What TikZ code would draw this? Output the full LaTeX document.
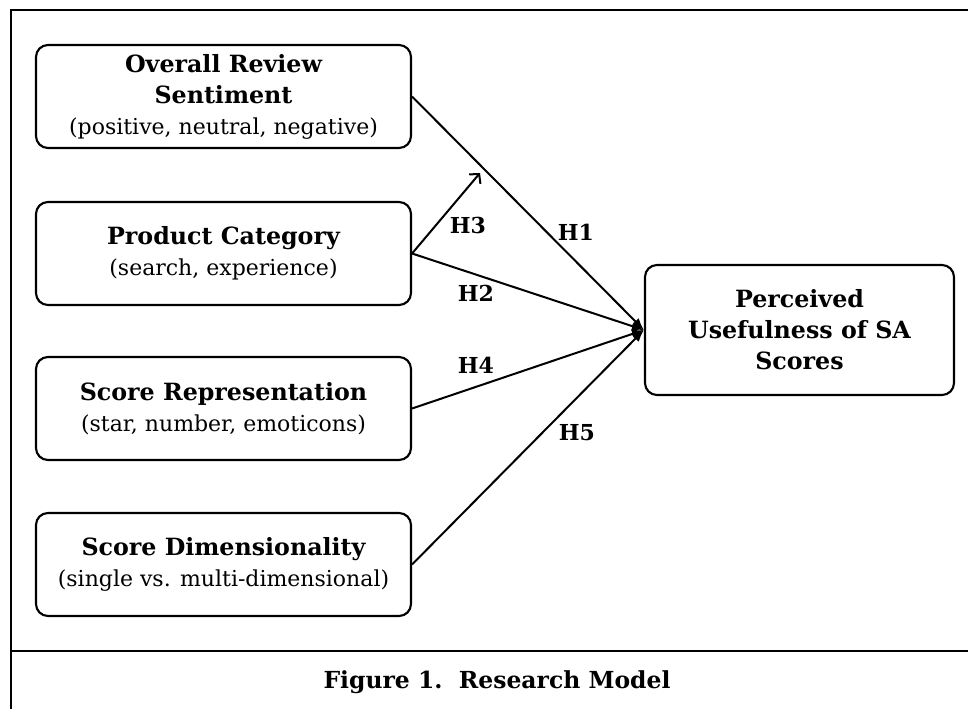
\documentclass[tikz,border=0pt]{standalone}
\usepackage{fontspec}
\setmainfont{DejaVu Serif}
\usetikzlibrary{arrows.meta}
\newcommand{\ttl}[1]{{\bfseries\fontsize{17.8}{23.3}\selectfont #1}}
\begin{document}
\begin{tikzpicture}[x=0.75pt,y=-0.75pt,
  box/.style={draw, line width=1.6pt, rounded corners=9pt, align=center, inner sep=0pt,
    minimum width=281.25pt, minimum height=77.25pt, font=\fontsize{16.5}{23.3}\selectfont},
  target/.style={box, minimum width=231.75pt, minimum height=97.5pt, font=\bfseries\fontsize{17.8}{23.3}\selectfont},
  lbl/.style={font=\bfseries\fontsize{16.5}{20}\selectfont, inner sep=0pt},
  arr/.style={line width=1.5pt, -{Latex[length=9pt,width=7pt]}},
  arrthree/.style={line width=1.5pt, -{Straight Barb[length=5pt,width=11pt]}},
  frame/.style={line width=2.2pt}]
\useasboundingbox (0,0) rectangle (968,709);
\draw[frame] (968,10) -- (11,10) -- (11,709);
\draw[frame] (11,651) -- (968,651);

\node[box] (ors) at (223.5,96.5) {\ttl{Overall Review}\\\ttl{Sentiment}\\(positive, neutral, negative)};
\node[box] (pc) at (223.5,253.5) {\ttl{Product Category}\\(search, experience)};
\node[box] (sr) at (223.5,408.5) {\ttl{Score Representation}\\(star, number, emoticons)};
\node[box] (sd) at (223.5,564.5) {\ttl{Score Dimensionality}\\(single vs. multi-dimensional)};
\node[target] (puf) at (799.5,330) {Perceived\\Usefulness of SA\\Scores};

\coordinate (h3tip) at (480,173);
\draw[arr] (ors.east) -- (puf.west);
\draw[arr] (pc.east) -- (puf.west);
\draw[arr] (sr.east) -- (puf.west);
\draw[arr] (sd.east) -- (puf.west);
\draw[arrthree] (pc.east) -- (h3tip);

\node[lbl] (l1) at (576,232) {H1};
\node[lbl] (l2) at (476,293) {H2};
\node[lbl] (l3) at (468,225) {H3};
\node[lbl] (l4) at (476,365) {H4};
\node[lbl] (l5) at (577,433) {H5};

\node[font=\bfseries\fontsize{17.6}{20}\selectfont, inner sep=0pt] (cap) at (497,682) {Figure 1.\ \ Research Model};
\end{tikzpicture}
\end{document}
